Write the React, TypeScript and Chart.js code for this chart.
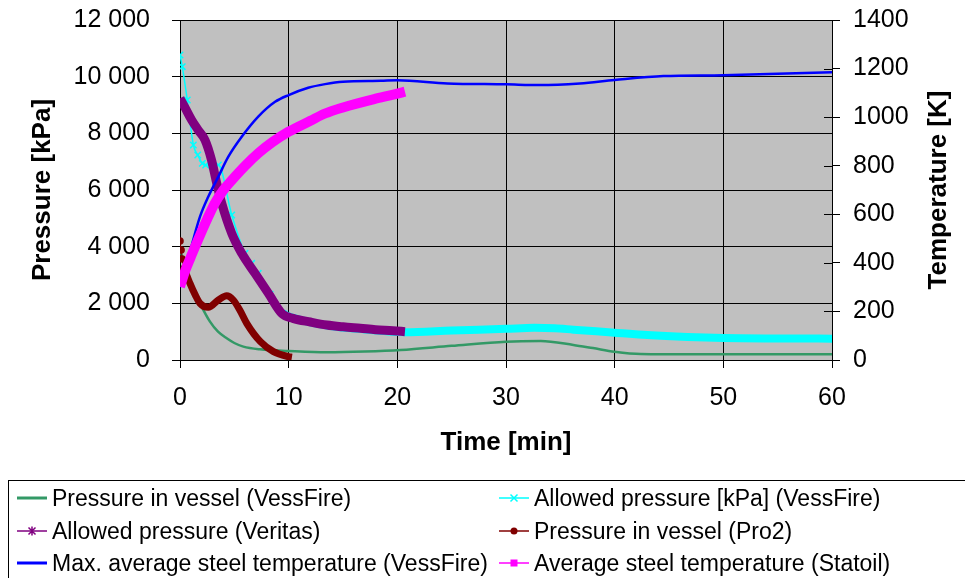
import React, { useEffect, useRef } from "react";
import { Chart, registerables } from "chart.js";
Chart.register(...registerables);

const FONT = '"Liberation Sans", Arial, Helvetica, sans-serif';

// Pressure in vessel (VessFire) [kPa]
const vfPressTime = [0, 0.4, 0.77, 1.3, 1.84, 2.76, 3.5, 4.3, 5, 5.83, 7.37, 10, 13.5, 17, 20.3, 25, 30, 33.2, 36.2, 38, 40, 42.4, 45, 50, 60];
const vfPress = [3900, 3400, 2941, 2450, 2000, 1353, 1000, 765, 600, 471, 376, 320, 275, 300, 353, 500, 647, 670, 530, 420, 294, 212, 205, 202, 200];

// Allowed pressure [kPa] (VessFire)
const vfAllowTime = [0, 0.21, 0.67, 1.23, 1.63, 2.05, 2.36, 3.53, 4.76, 5.98, 6.6, 7.2, 8.3, 9.4, 10.5, 13.5, 17, 20.7, 25, 30, 32.6, 34.5, 36.2, 40, 43, 46.7, 50, 55, 60];
const vfAllow = [10765, 10353, 9176, 7588, 7235, 6941, 6882, 6882, 5118, 3765, 3412, 3060, 2320, 1680, 1480, 1220, 1080, 982, 1040, 1100, 1135, 1120, 1071, 965, 880, 812, 776, 760, 753];

// Allowed pressure (Veritas) [kPa]
const veritasTime = [0, 0.5, 1.07, 1.7, 2.3, 2.9, 3.38, 3.84, 4.76, 5.68, 6.9, 8.13, 9.4, 10.4, 12, 13.5, 15, 16.6, 18, 19.6, 20.7];
const veritas = [9235, 8880, 8470, 8100, 7765, 7059, 6235, 5529, 4471, 3765, 3059, 2353, 1630, 1470, 1340, 1235, 1170, 1118, 1070, 1035, 1000];

// Pressure in vessel (Pro2) [kPa]
const pro2Time = [0, 0.1, 0.2, 0.4, 0.92, 1.4, 1.84, 2.6, 3.53, 4.3, 4.9, 5.5, 6.14, 7.4, 8.6, 10, 10.3];
const pro2 = [4200, 3882, 3565, 3235, 2706, 2300, 2000, 1859, 2118, 2270, 2118, 1765, 1294, 647, 294, 118, 100];

// Max. average steel temperature (VessFire) [K]
const vfTempTime = [0, 0.5, 1, 1.84, 2.6, 3.53, 4.45, 5.68, 7.2, 8.75, 10, 11.8, 13.35, 15, 18.5, 20, 24.6, 30, 33.1, 36.8, 40, 44.5, 50, 55, 60];
const vfTemp = [300, 380, 460, 590, 672, 755, 837, 919, 1002, 1063, 1091, 1121, 1136, 1146, 1150, 1152, 1139, 1135, 1132, 1139, 1153, 1169, 1173, 1179, 1185];

// Average steel temperature (Statoil) [K]
const statoilTime = [0, 0.5, 1, 1.38, 2, 2.5, 3.2, 4, 5.06, 6, 7.2, 8.5, 10, 12, 13.35, 15, 18.1, 20, 20.7];
const statoil = [302, 370, 425, 466, 530, 580, 645, 700, 755, 800, 851, 897, 940, 985, 1015, 1040, 1077, 1097, 1105];

const timeTicks = { min: 0, max: 60, step: 10 };
const pressureTicks = { min: 0, max: 12000, step: 2000 };
const tempTicks = { min: 0, max: 1400, step: 200 };

const seriesLabels = [
  "Pressure in vessel (VessFire)",
  "Allowed pressure [kPa] (VessFire)",
  "Allowed pressure (Veritas)",
  "Pressure in vessel (Pro2)",
  "Max. average steel temperature (VessFire)",
  "Average steel temperature (Statoil)",
];
const seriesColors = ["#339966", "#00FFFF", "#800080", "#800000", "#0000FF", "#FF00FF"];

const fmtThousands = (v: number) => String(v).replace(/\B(?=(\d{3})+(?!\d))/g, " ");

const pts = (xs: number[], ys: number[]) => xs.map((x, i) => ({ x, y: ys[i] }));

function Marker({ kind, color }: { kind: string; color: string }) {
  const thick = kind === "line";
  return (
    <svg width="30" height="14" style={{ display: "block", flex: "0 0 auto" }}>
      <line x1="0" y1="7" x2="30" y2="7" stroke={color} strokeWidth={thick ? 3 : 1.5} />
      {kind === "cross" && <path d="M11.5 3.5 L18.5 10.5 M18.5 3.5 L11.5 10.5" stroke={color} strokeWidth="1.5" />}
      {kind === "star" && <path d="M11.5 3.5 L18.5 10.5 M18.5 3.5 L11.5 10.5 M15 2.5 L15 11.5" stroke={color} strokeWidth="1.5" />}
      {kind === "circle" && <circle cx="15" cy="7" r="3.5" fill={color} />}
      {kind === "square" && <rect x="11.5" y="3.5" width="7" height="7" fill={color} />}
    </svg>
  );
}

const legendKinds = ["line", "cross", "star", "circle", "line", "square"];

const noPad = (s: any) => {
  s.paddingTop = 0;
  s.paddingBottom = 0;
  s.paddingLeft = 0;
  s.paddingRight = 0;
};

export default function App() {
  const ref = useRef<HTMLCanvasElement>(null);

  useEffect(() => {
    const canvas = ref.current!;
    const bgPlugin = {
      id: "plotBg",
      beforeDraw(chart: any) {
        const { ctx, chartArea: a } = chart;
        ctx.save();
        ctx.fillStyle = "#C0C0C0";
        ctx.fillRect(a.left, a.top, a.right - a.left, a.bottom - a.top);
        ctx.restore();
      },
    };
    const rightPlugin = {
      id: "rightExtras",
      afterDraw(chart: any) {
        const s = chart.scales.yR;
        const { ctx, chartArea } = chart;
        ctx.save();
        ctx.strokeStyle = "#000";
        ctx.lineWidth = 1;
        s.ticks.forEach((t: any) => {
          const y = Math.round(s.getPixelForValue(t.value)) + 0.5;
          ctx.beginPath();
          ctx.moveTo(s.left - 8, y);
          ctx.lineTo(s.left, y);
          ctx.stroke();
        });
        ctx.translate(s.right - 11, (chartArea.top + chartArea.bottom) / 2);
        ctx.rotate(-Math.PI / 2);
        ctx.font = `bold 26px ${FONT}`;
        ctx.fillStyle = "#000";
        ctx.textAlign = "center";
        ctx.textBaseline = "middle";
        ctx.fillText("Temperature [K]", 0, 0);
        ctx.restore();
      },
    };

    const tickFont = { family: FONT, size: 25 };
    const titleFont = { family: FONT, size: 26, weight: "bold" as const };

    const chart = new Chart(canvas, {
      type: "line",
      data: {
        datasets: [
          {
            label: seriesLabels[0],
            data: pts(vfPressTime, vfPress),
            yAxisID: "yL",
            borderColor: seriesColors[0],
            borderWidth: 2.5,
            pointRadius: 0,
            cubicInterpolationMode: "monotone",
            order: 6,
          },
          {
            label: seriesLabels[1],
            data: pts(vfAllowTime, vfAllow),
            yAxisID: "yL",
            borderColor: seriesColors[1],
            borderWidth: 1.5,
            segment: { borderWidth: (c: any) => (c.p0.parsed.x >= 9.4 ? 8 : 1.5) },
            pointStyle: "crossRot",
            pointRadius: (c: any) => (c.raw && c.raw.x < 9 ? 4.5 : 0),
            pointBorderColor: seriesColors[1],
            pointBorderWidth: 1.5,
            borderJoinStyle: "round",
            cubicInterpolationMode: "monotone",
            order: 5,
          },
          {
            label: seriesLabels[2],
            data: pts(veritasTime, veritas),
            yAxisID: "yL",
            borderColor: seriesColors[2],
            borderWidth: 9,
            pointRadius: 0,
            borderJoinStyle: "round",
            cubicInterpolationMode: "monotone",
            order: 4,
          },
          {
            label: seriesLabels[3],
            data: pts(pro2Time, pro2),
            yAxisID: "yL",
            borderColor: seriesColors[3],
            borderWidth: 7,
            segment: { borderWidth: (c: any) => (c.p0DataIndex < 3 ? 1 : 7) },
            pointRadius: (c: any) => (c.dataIndex < 4 ? 3.8 : 0),
            pointBackgroundColor: seriesColors[3],
            pointBorderWidth: 0,
            borderJoinStyle: "round",
            cubicInterpolationMode: "monotone",
            order: 3,
          },
          {
            label: seriesLabels[4],
            data: pts(vfTempTime, vfTemp),
            yAxisID: "yR",
            borderColor: seriesColors[4],
            borderWidth: 2.5,
            pointRadius: 0,
            cubicInterpolationMode: "monotone",
            order: 2,
          },
          {
            label: seriesLabels[5],
            data: pts(statoilTime, statoil),
            yAxisID: "yR",
            borderColor: seriesColors[5],
            borderWidth: 10,
            pointRadius: 0,
            borderJoinStyle: "round",
            cubicInterpolationMode: "monotone",
            order: 1,
          },
        ] as any,
      },
      options: {
        animation: false,
        responsive: false,
        layout: { padding: { left: 30, right: 15, top: 20, bottom: 118 } },
        plugins: { legend: { display: false }, tooltip: { enabled: false } },
        scales: {
          x: {
            type: "linear",
            min: timeTicks.min,
            max: timeTicks.max,
            ticks: { stepSize: timeTicks.step, padding: 15, color: "#000", font: tickFont },
            grid: { color: "#000", lineWidth: 1, tickLength: 8, tickColor: "#000" },
            border: { color: "#000", width: 1 },
            title: { display: true, text: "Time [min]", color: "#000", font: titleFont, padding: { top: 0, bottom: 2 } },
            afterFit(s: any) { s.height = 100; noPad(s); },
          },
          yL: {
            type: "linear",
            position: "left",
            min: pressureTicks.min,
            max: pressureTicks.max,
            ticks: { stepSize: pressureTicks.step, padding: 22, color: "#000", font: tickFont, callback: (v: any) => fmtThousands(Number(v)) },
            grid: { color: "#000", lineWidth: 1, tickLength: 8, tickColor: "#000" },
            border: { color: "#000", width: 1 },
            title: { display: true, text: "Pressure [kPa]", color: "#000", font: { ...titleFont, lineHeight: 1 }, padding: { top: 0, bottom: 0 } },
            afterFit(s: any) { s.width = 150; noPad(s); },
          },
          yR: {
            type: "linear",
            position: "right",
            min: tempTicks.min,
            max: tempTicks.max,
            ticks: { stepSize: tempTicks.step, padding: 13, color: "#000", font: tickFont, callback: (v: any) => String(v) },
            grid: { drawOnChartArea: false, color: "#000", tickLength: 8, tickColor: "#000" },
            border: { color: "#000", width: 1 },
            afterFit(s: any) { s.width = 118; noPad(s); },
          },
        },
      } as any,
      plugins: [bgPlugin, rightPlugin],
    });
    return () => chart.destroy();
  }, []);

  const rows = [498, 531, 563];
  const cols = [17, 499];

  return (
    <div style={{ position: "fixed", left: 0, top: 0, width: 965, height: 578, overflow: "hidden", background: "#fff" }}>
      <canvas ref={ref} width={965} height={578} style={{ position: "absolute", left: 0, top: 0, width: 965, height: 578, display: "block" }} />
      <div style={{ position: "absolute", left: 8, top: 480, width: 1000, height: 200, border: "1px solid #000", boxSizing: "border-box" }} />
      {seriesLabels.map((lab, i) => (
        <div
          key={lab}
          style={{
            position: "absolute",
            left: cols[i % 2],
            top: rows[Math.floor(i / 2)] - 15,
            height: 30,
            display: "flex",
            alignItems: "center",
            gap: 5,
            fontFamily: FONT,
            fontSize: 23,
            color: "#000",
            whiteSpace: "nowrap",
          }}
        >
          <Marker kind={legendKinds[i]} color={seriesColors[i]} />
          <span>{lab}</span>
        </div>
      ))}
    </div>
  );
}
